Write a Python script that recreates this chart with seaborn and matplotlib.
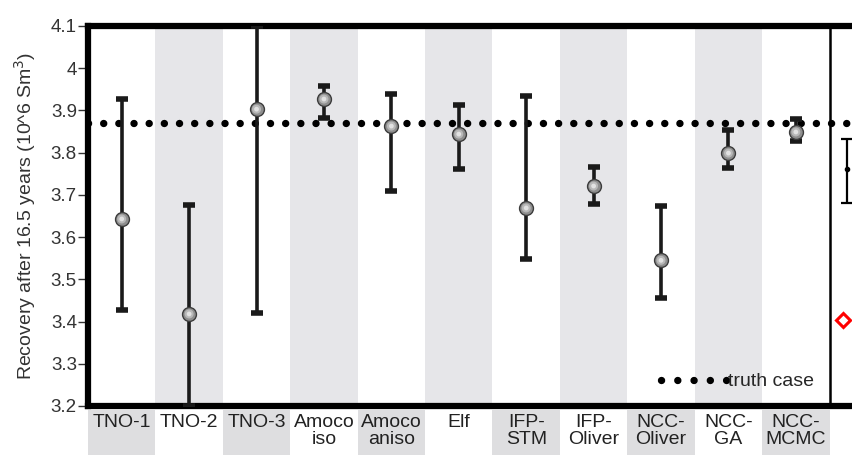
import numpy as np
import pandas as pd
import seaborn as sns
import matplotlib.pyplot as plt
from matplotlib.patches import Rectangle
from matplotlib.lines import Line2D
import matplotlib.transforms as mtransforms

# recovery estimates per model (10^6 Sm3)
models = ['TNO-1', 'TNO-2', 'TNO-3', 'Amoco\niso', 'Amoco\naniso', 'Elf',
          'IFP-\nSTM', 'IFP-\nOliver', 'NCC-\nOliver', 'NCC-\nGA', 'NCC-\nMCMC']
mean = [3.643, 3.418, 3.903, 3.927, 3.863, 3.844, 3.669, 3.721, 3.545, 3.799, 3.849]
low = [3.427, 3.200, 3.420, 3.882, 3.709, 3.761, 3.548, 3.678, 3.455, 3.764, 3.827]
high = [3.927, 3.676, 4.100, 3.958, 3.939, 3.913, 3.934, 3.766, 3.673, 3.854, 3.880]

truth = 3.870
extra_mean, extra_low, extra_high = 3.761, 3.681, 3.832
red_value = 3.403
yticks = [3.2, 3.3, 3.4, 3.5, 3.6, 3.7, 3.8, 3.9, 4.0, 4.1]
ytick_labels = ['3.2', '3.3', '3.4', '3.5', '3.6', '3.7', '3.8', '3.9', '4', '4.1']

df = pd.DataFrame({'model': models, 'x': np.arange(len(models)), 'mean': mean,
                   'low': low, 'high': high})

sns.set_style('white')
plt.rcParams['font.family'] = ['Liberation Sans', 'DejaVu Sans']

fig = plt.figure(figsize=(8.53, 4.55), dpi=100)
ax = fig.add_axes([88 / 853, 49 / 455, 782 / 853, 380 / 455])
n = len(models)

# alternating grey bands in the plot and behind the labels
trans = mtransforms.blended_transform_factory(ax.transData, ax.transAxes)
for i in range(n):
    if i % 2 == 1:
        ax.axvspan(i - 0.5, i + 0.5, color='#e6e6e9', lw=0, zorder=0)
    else:
        ax.add_patch(Rectangle((i - 0.5, -0.15), 1.0, 0.14, transform=trans,
                               facecolor='#dedee0', lw=0, clip_on=False, zorder=0.1))

# truth case
ax.axhline(truth, color='black', lw=5.3, linestyle=(0, (0.01, 2.05)),
           dash_capstyle='round', zorder=2)

ax.errorbar(df['x'], df['mean'],
            yerr=[df['mean'] - df['low'], df['high'] - df['mean']],
            fmt='none', ecolor='#1a1a1a', elinewidth=2.6, capsize=4.5,
            capthick=4, zorder=3)
sns.scatterplot(data=df, x='x', y='mean', s=100, color='#8e8e8e',
                edgecolor='#3c3c3c', linewidth=1, ax=ax, zorder=4)
sns.scatterplot(data=df, x='x', y='mean', s=42, color='#b8b8b8',
                edgecolor='none', ax=ax, zorder=5)
sns.scatterplot(data=df, x='x', y='mean', s=12, color='#e2e2e2',
                edgecolor='none', ax=ax, zorder=6)

# extra column right of the separator
ax.axvline(n - 0.5, color='black', lw=1.8, zorder=3)
ax.errorbar([n - 0.24], [extra_mean],
            yerr=[[extra_mean - extra_low], [extra_high - extra_mean]],
            fmt='o', color='black', ms=3, elinewidth=1.6, capsize=4,
            capthick=1.6, zorder=3)
ax.plot([n - 0.30], [red_value], marker='D', ms=7, mfc='white', mec='red',
        mew=2.2, ls='none', zorder=4)

ax.set_xlim(-0.5, n + 0.1)
ax.set_ylim(3.2, 4.1)
ax.set_yticks(yticks)
ax.set_yticklabels(ytick_labels, fontsize=13.5, color='#333333')
ax.set_xticks(df['x'])
ax.set_xticklabels(models, fontsize=14, color='#222222', linespacing=1.0)
ax.tick_params(axis='y', direction='out', length=7, width=1, pad=1,
               left=True, color='#333333')
ax.tick_params(axis='x', length=0, pad=6)
ax.set_xlabel('')
ax.set_ylabel('Recovery after 16.5 years (10^6 Sm$^3$)', fontsize=14,
              color='#333333', labelpad=9)
for s in ax.spines.values():
    s.set_linewidth(4.5)
    s.set_color('black')

legend_handle = Line2D([], [], color='black', lw=5.3, linestyle=(0, (0.01, 2.2)),
                       dash_capstyle='round')
ax.legend([legend_handle], ['truth case'], loc='lower right',
          bbox_to_anchor=(n - 0.5, 3.2), bbox_transform=ax.transData,
          frameon=False, fontsize=14, handlelength=3.4, handletextpad=0.05,
          borderaxespad=0.4)

fig.savefig('out.png', dpi=100)
